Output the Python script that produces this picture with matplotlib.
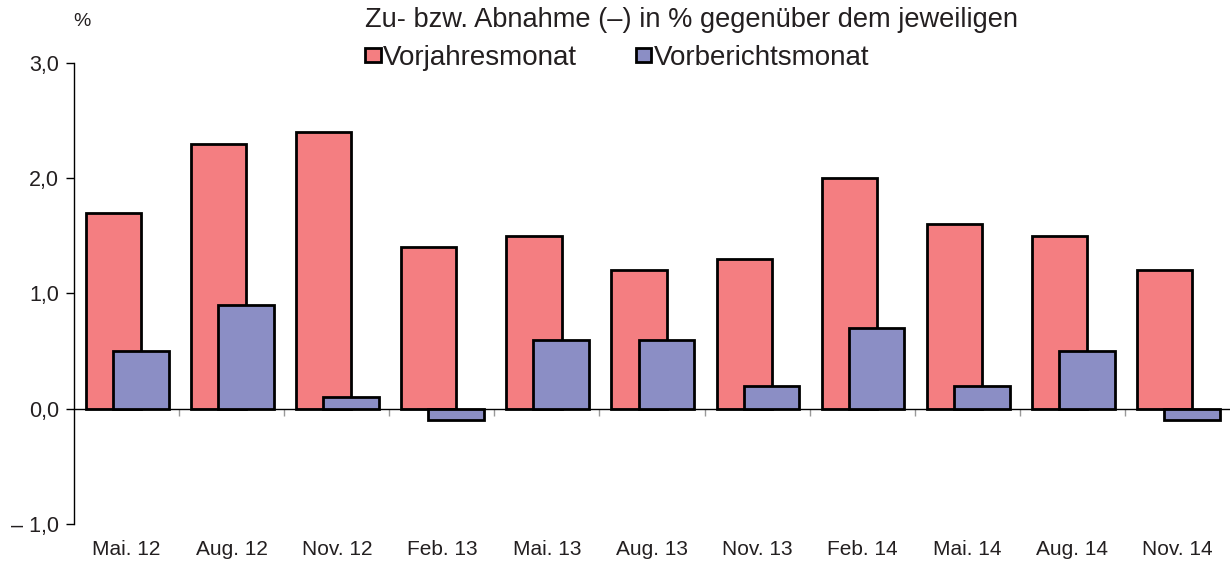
import numpy as np
import matplotlib.pyplot as plt

plt.rcParams['font.family'] = ['Liberation Sans', 'DejaVu Sans']

categories = ['Mai. 12', 'Aug. 12', 'Nov. 12', 'Feb. 13', 'Mai. 13', 'Aug. 13',
              'Nov. 13', 'Feb. 14', 'Mai. 14', 'Aug. 14', 'Nov. 14']
vorjahr = [1.7, 2.3, 2.4, 1.4, 1.5, 1.2, 1.3, 2.0, 1.6, 1.5, 1.2]
vorbericht = [0.5, 0.9, 0.1, -0.1, 0.6, 0.6, 0.2, 0.7, 0.2, 0.5, -0.1]
ytick_vals = [-1, 0, 1, 2, 3]
ytick_labels = ['\u2013 1,0', '0,0', '1,0', '2,0', '3,0']

red = '#f47e81'
blue = '#8b8ec5'
txt = '#231f20'

fig = plt.figure(figsize=(12.3, 5.63), dpi=100)
ax = fig.add_axes([0.0602, 0.0693, 0.9398, 0.8189])

x = np.arange(len(categories))
b1 = ax.bar(x - 0.386, vorjahr, width=0.525, align='edge', color=red,
            edgecolor='black', linewidth=2, label='Vorjahresmonat', zorder=2)
b2 = ax.bar(x - 0.128, vorbericht, width=0.53, align='edge', color=blue,
            edgecolor='black', linewidth=2, label='Vorberichtsmonat', zorder=3)

ax.set_xlim(-0.5, len(categories) - 0.5)
ax.set_ylim(-1, 3)

for s in ['top', 'right']:
    ax.spines[s].set_visible(False)
ax.spines['bottom'].set_position(('data', 0))
ax.spines['bottom'].set_linewidth(1.0)
ax.spines['left'].set_linewidth(1.0)

ax.set_yticks(ytick_vals)
ax.set_yticklabels(ytick_labels, fontsize=15.5, color=txt)
ax.tick_params(axis='y', direction='out', length=6, width=1, pad=5)

ax.set_xticks(x[:-1] + 0.5)
ax.set_xticklabels([])
ax.tick_params(axis='x', direction='out', length=5, width=1, color='#999999')
for xi, lab in zip(x, categories):
    ax.text(xi, -1.22, lab, ha='center', va='center', fontsize=15, color=txt)

fig.text(0.0667, 0.962, '%', fontsize=14, color=txt, ha='center', va='center')
fig.text(0.297, 0.964, 'Zu- bzw. Abnahme (\u2013) in % gegenüber dem jeweiligen',
         fontsize=19.6, color=txt, ha='left', va='center')

leg = ax.legend(handles=[b1, b2], ncol=2, frameon=False, fontsize=20,
                loc='center left', handlelength=0.55, handleheight=0.4,
                handletextpad=0.1, columnspacing=2.1, labelcolor=txt,
                borderpad=0, borderaxespad=0)
leg.set_bbox_to_anchor((0.297, 0.897), transform=fig.transFigure)

fig.savefig('out.png', dpi=100)
